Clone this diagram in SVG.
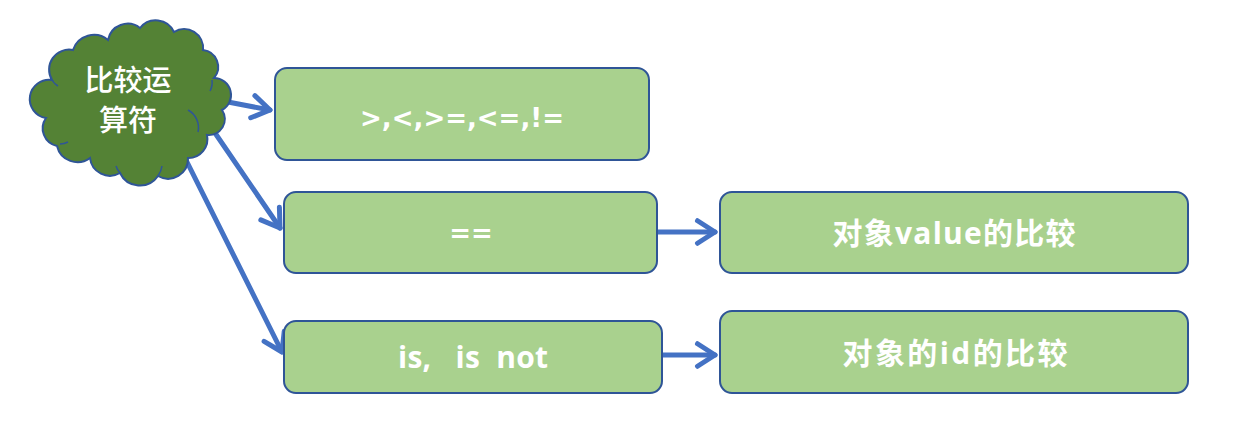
<svg xmlns="http://www.w3.org/2000/svg" width="1233" height="429" viewBox="0 0 1233 429">
<defs>
<style>
.box{fill:#A9D18E;stroke:#2F5597;stroke-width:2}
.cloud{fill:#548235;stroke:#2F5597;stroke-width:2}
.t{fill:#ffffff;font-family:"Open Sans","Noto Sans CJK SC",sans-serif;font-weight:bold;font-size:30px;text-anchor:middle}
.s{fill:#ffffff;font-family:"DejaVu Sans",sans-serif;font-weight:bold;font-size:26px;text-anchor:middle}
.ct{fill:#ffffff;font-family:"Noto Sans CJK SC",sans-serif;font-weight:500;font-size:29px;text-anchor:middle}
.c{fill:none;stroke:#4472C4;stroke-width:5;stroke-linecap:round;stroke-linejoin:round}
</style>
<marker id="ah" viewBox="0 0 12 12" refX="10" refY="6" markerWidth="6" markerHeight="6" markerUnits="strokeWidth" orient="auto">
<path d="M3,1.5 L10,6 L3,10.5" fill="none" stroke="#4472C4" stroke-width="2" stroke-linecap="round" stroke-linejoin="round"/>
</marker>
</defs>
<rect width="1233" height="429" fill="#ffffff"/>
<g id="connectors">
<path class="c" d="M228,102 L270,110" marker-end="url(#ah)"/>
<path class="c" d="M213,130 L280,228" marker-end="url(#ah)"/>
<path class="c" d="M186,160 L282,352" marker-end="url(#ah)"/>
<path class="c" d="M658,232 L715,232" marker-end="url(#ah)"/>
<path class="c" d="M663,355 L715,355" marker-end="url(#ah)"/>
</g>
<g id="cloud">
<path class="cloud" d="M52,80 A20,20 0 0 1 73,50 A22,22 0 0 1 108,40 A20,20 0 0 1 140,28 A20,20 0 0 1 174,32 A19,19 0 0 1 203,50 A17,17 0 0 1 214,78 A17,17 0 0 1 222,110 A16,16 0 0 1 207,135 A19,19 0 0 1 188,158 A20,20 0 0 1 158,176 A22,22 0 0 1 120,173 A20,20 0 0 1 90,158 A21,21 0 0 1 57,146 A18,18 0 0 1 46,118 A19,19 0 0 1 52,80 Z"/>
<path fill="none" stroke="#2F5597" stroke-width="1.5" d="M188,110 A20,20 0 0 1 198,132 M212,80 A18,18 0 0 1 210,91 M52,80 A16,16 0 0 0 58,86 M60,144 A18,18 0 0 0 68,142 M120,173 A20,20 0 0 1 116,166 M158,176 A22,22 0 0 0 162,166"/>
<text class="ct" x="128" y="91">比较运</text>
<text class="ct" x="128" y="131">算符</text>
</g>
<g id="n1">
<rect class="box" x="275" y="68" width="374" height="92" rx="12"/>
<text class="s" x="462" y="127">&gt;,&lt;,&gt;=,&lt;=,!=</text>
</g>
<g id="n2">
<rect class="box" x="284" y="192" width="373" height="81" rx="12"/>
<text class="s" x="471" y="242">==</text>
</g>
<g id="n3">
<rect class="box" x="720" y="192" width="468" height="81" rx="12"/>
<text class="t" x="954" y="244" textLength="243" lengthAdjust="spacing">对象value的比较</text>
</g>
<g id="n4">
<rect class="box" x="284" y="321" width="378" height="72" rx="12"/>
<text class="t" x="473" y="368" xml:space="preserve" textLength="150" lengthAdjust="spacing">is,   is  not</text>
</g>
<g id="n5">
<rect class="box" x="720" y="311" width="468" height="82" rx="12"/>
<text class="t" x="955" y="364" textLength="225" lengthAdjust="spacing">对象的id的比较</text>
</g>
</svg>
